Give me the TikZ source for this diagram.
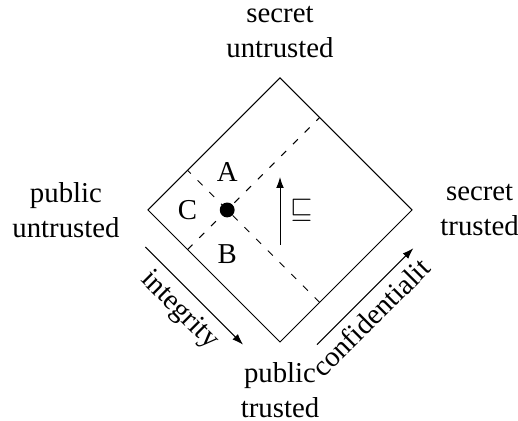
\documentclass[tikz,border=0pt]{standalone}
\usepackage{fontspec}
\setmainfont{Liberation Serif}
\usetikzlibrary{positioning,arrows.meta}
\begin{document}
\begin{tikzpicture}[font=\fontsize{12}{14.6}\selectfont,
    corner/.style={align=center},
    split/.style={dash pattern=on 2.9pt off 4pt},
    tip/.style={-{Latex[length=4.6pt,width=3.2pt]}},
    point/.style={circle,fill,inner sep=0pt,minimum size=6.2pt}]
  \useasboundingbox (-116.67pt,-32.92pt) rectangle (99.17pt,142.5pt);
  % the lattice, turned by 45 degrees
  \begin{scope}[rotate=45,x=77.8pt,y=77.8pt]
    \coordinate (bot) at (0,0);
    \coordinate (rgt) at (1,0);
    \coordinate (top) at (1,1);
    \coordinate (lft) at (0,1);
    \coordinate (ctr) at (0.5,0.5);
    \draw (bot) -- (rgt) -- (top) -- (lft) -- cycle;
    \coordinate (d1) at (0.3,0);
    \coordinate (d2) at (0.3,1);
    \coordinate (d3) at (0,0.7);
    \coordinate (d4) at (1,0.7);
    \draw[split] (d1) -- (d2);
    \draw[split] (d3) -- (d4);
    \node[point] (pt) at (0.3,0.7) {};
    % ends of the axes
    \coordinate (i1) at (-0.15,0.87);
    \coordinate (i2) at (-0.15,0.13);
    \coordinate (c1) at (0.13,-0.15);
    \coordinate (c2) at (0.86,-0.15);
  \end{scope}
  \draw[tip] (i1) -- node[below,sloped] (integ) {integrity} (i2);
  \draw[tip] (c1) -- node[below,sloped,pos=0.42] (conf) {confidentialit} (c2);
  \node (A) at ([yshift=15.8pt]pt) {A};
  \node (B) at ([yshift=-18.5pt]pt) {B};
  \node (C) at ([xshift=-16.5pt]pt) {C};
  \coordinate (up1) at ([yshift=-14.6pt]ctr);
  \coordinate (up2) at ([yshift=13.75pt]ctr);
  \draw[tip] (up1) -- (up2);
  \node (order) at ([xshift=9pt]ctr) {$\sqsubseteq$};
  \node[corner,above=5pt of top] (su) {secret\\untrusted};
  \node[corner,left=8.3pt of lft] (pu) {public\\untrusted};
  \node[corner,right=8.3pt of rgt] (st) {secret\\trusted};
  \node[corner,below=5pt of bot] (pt2) {public\\trusted};
\end{tikzpicture}
\end{document}
